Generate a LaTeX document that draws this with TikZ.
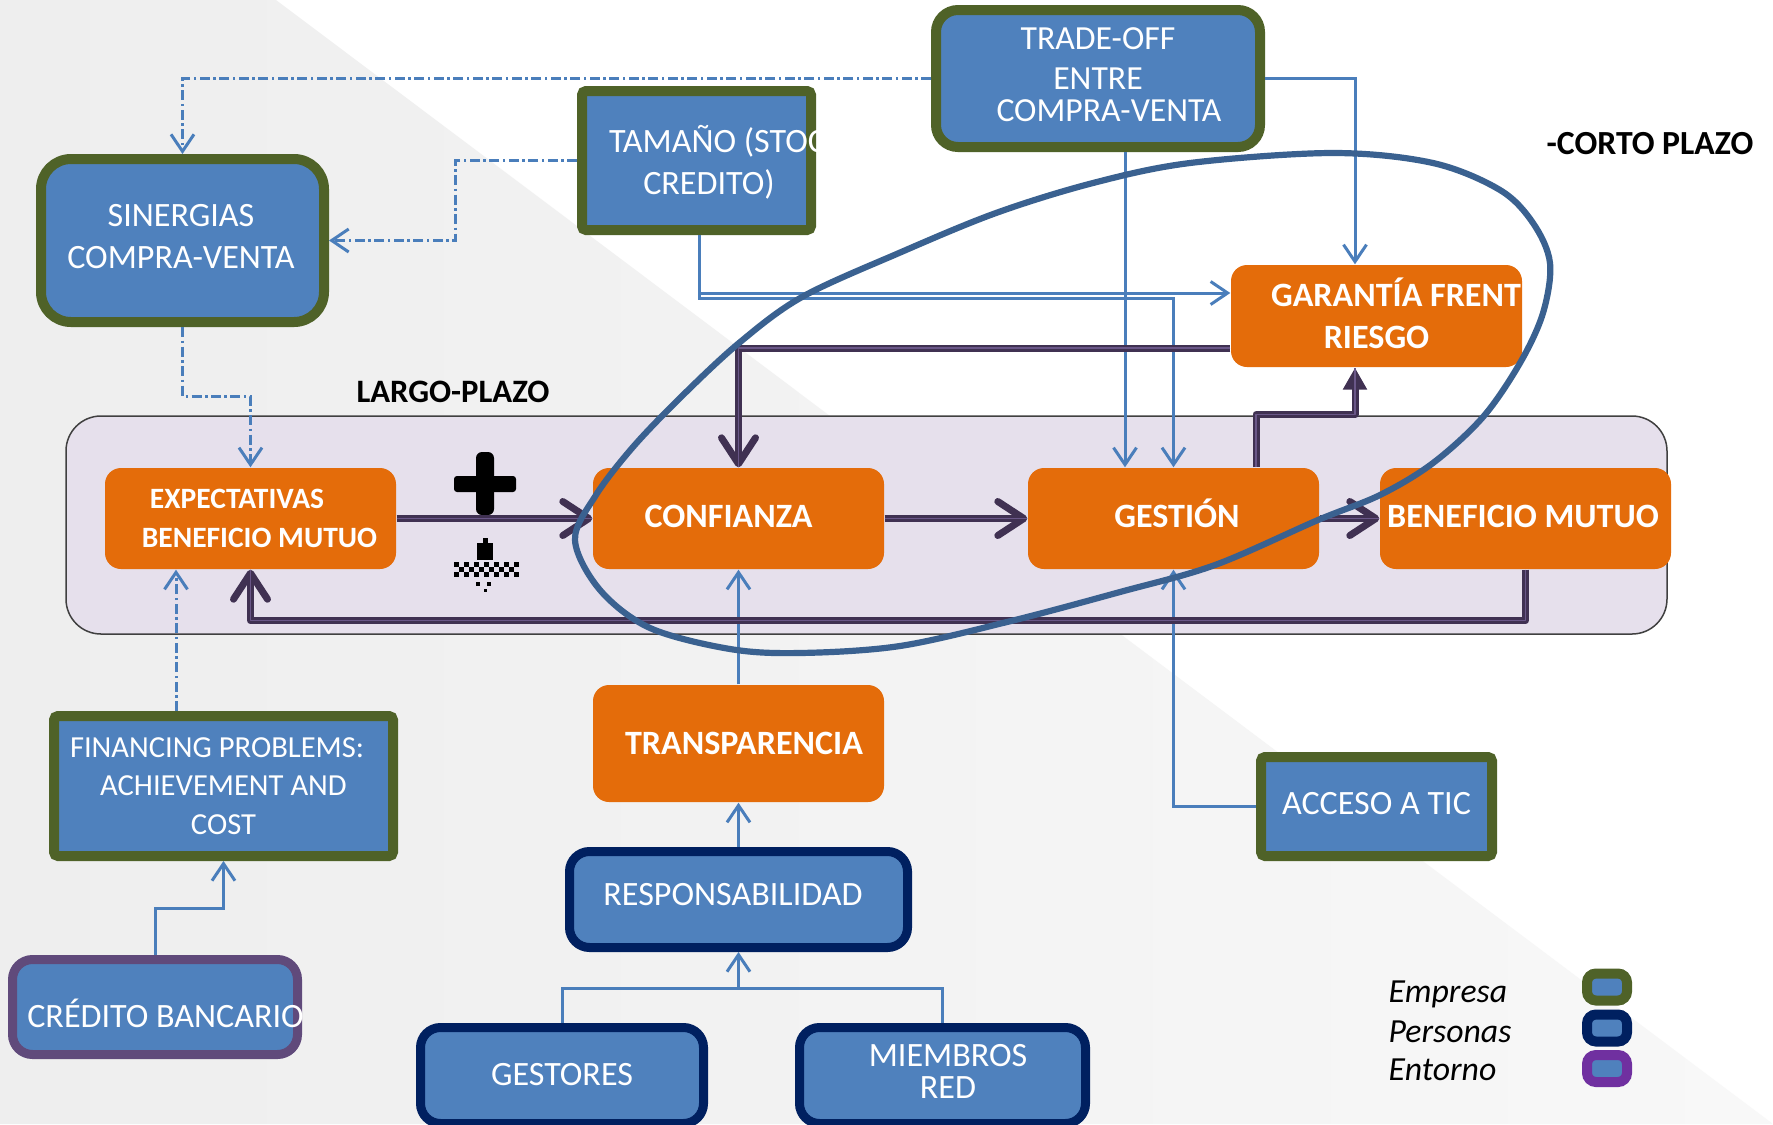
\documentclass[tikz,border=0pt]{standalone}
\usepackage{fontspec}
\setmainfont{Carlito}
\usetikzlibrary{arrows.meta}
\definecolor{bgray}{HTML}{F5F5F5}
\definecolor{bgrayl}{HTML}{EEEEEE}
\definecolor{bgrayr}{HTML}{F8F8F8}
\definecolor{boxblue}{HTML}{4F81BD}
\definecolor{empcol}{HTML}{4F6228}
\definecolor{percol}{HTML}{002060}
\definecolor{entcol}{HTML}{604A7B}
\definecolor{legpur}{HTML}{7030A0}
\definecolor{orng}{HTML}{E46C0A}
\definecolor{lav}{HTML}{E6E0EC}
\definecolor{conblue}{HTML}{4A7EBB}
\definecolor{pudark}{HTML}{403152}
\definecolor{pumid}{HTML}{6A5788}
\definecolor{ellblue}{HTML}{3A6190}
\tikzset{
  bluebox/.style={draw, fill=boxblue, line width=1mm, text=white, inner sep=0pt, align=center, font=\fontsize{9.7}{11.7}\selectfont},
  empbox/.style={bluebox, draw=empcol},
  perbox/.style={bluebox, draw=percol, line width=0.9mm, rounded corners=2mm},
  entbox/.style={bluebox, draw=entcol, line width=0.9mm, rounded corners=2mm},
  orbox/.style={fill=orng, rounded corners=1.6mm, text=white, inner sep=0pt, align=center, minimum width=29.1mm, minimum height=10.1mm, font=\bfseries\fontsize{9.7}{11.7}\selectfont},
  txt/.style={text=white, inner sep=0pt, align=center, font=\fontsize{9.7}{12}\selectfont},
  legbox/.style={fill=boxblue, line width=1mm, rounded corners=0.9mm, minimum width=4mm, minimum height=2.7mm, inner sep=0pt},
  plainconn/.style={draw=conblue, line width=0.3mm},
  conn/.style={plainconn, -{Straight Barb[length=1.7mm,width=2.3mm]}},
  ddconn/.style={conn, dash pattern=on 1mm off 0.35mm on 0.25mm off 0.35mm},
  puconn/.style={draw=pudark, line width=0.7mm, line join=round, -{Straight Barb[length=2.6mm,width=3.4mm,round]}, postaction={draw=pumid, line width=0.15mm, -}},
}
\begin{document}
\begin{tikzpicture}[x=0.1mm,y=-0.1mm]
\path[use as bounding box] (0,0) rectangle (1773,1124);
\clip (0,0) rectangle (1773,1124);
% background
\fill[white] (0,0) rectangle (1773,1124);
\shade[left color=bgrayl, right color=bgrayr] (0,0) -- (276,0) -- (1773,1124) -- (0,1124) -- cycle;
% long-term band
\draw[fill=lav, draw=black!75, line width=0.15mm, rounded corners=3.5mm] (66,416) rectangle (1667,634);

% boxes
\node[empbox, rounded corners=2.2mm, minimum width=32.4mm, minimum height=13.7mm] (trade) at (1098,78.5) {};
\node[txt, font=\fontsize{9.6}{9.1}\selectfont] (tradetxt) at (1098,75) {TRADE-OFF\\[2.3pt]ENTRE\hspace*{4.2mm}\\\hspace*{2.2mm}COMPRA-VENTA};
\node[empbox, rounded corners=0.4mm, minimum width=22.9mm, minimum height=13.9mm] (tam) at (696.5,160.5) {};
\begin{scope}
  \clip (577,86) rectangle (816,235);
  \node[txt] (tamtxt) at (709,162) {\hspace*{1.7mm}TAMAÑO (STOC\\CREDITO)};
\end{scope}
\node[empbox, rounded corners=3mm, minimum width=28.3mm, minimum height=16.3mm] (sin) at (182.5,240.5) {};
\node[txt] (sintxt) at (181,236.5) {SINERGIAS\\COMPRA-VENTA};
\node[empbox, rounded corners=0.4mm, minimum width=33.9mm, minimum height=14mm, font=\fontsize{8.7}{11}\selectfont] (fin) at (223.5,786) {FINANCING PROBLEMS:\hspace*{1.3mm}\\ACHIEVEMENT AND\hspace*{1.3mm}\\COST};
\node[entbox, minimum width=28.5mm, minimum height=9.5mm] (cred) at (155,1007) {};
\node[txt, anchor=base] (credtxt) at (165.5,1027) {CRÉDITO BANCARIO};

\node[orbox, font=\bfseries\fontsize{8.4}{11.1}\selectfont] (expe) at (250.5,518.5) {EXPECTATIVAS\hspace*{2.7mm}\\\hspace*{1.8mm}BENEFICIO MUTUO};
\node[orbox, text height=2.1mm, text depth=0.4mm] (conf) at (738.5,518.5) {CONFIANZA\hspace*{2mm}};
\node[orbox, text height=2.1mm, text depth=0.4mm] (gest) at (1173.5,518.5) {\hspace*{0.7mm}GESTIÓN};
\node[orbox, text height=2.1mm, text depth=0.4mm] (bene) at (1525.5,518.5) {BENEFICIO MUTUO\hspace*{0.5mm}};
\node[orbox, minimum height=10.2mm] (gar) at (1376.5,316) {};
\node[txt, font=\bfseries\fontsize{9.7}{12}\selectfont] (gartxt) at (1376.5,313) {\hspace*{3.9mm}GARANTÍA FRENT\\RIESGO};
\node[orbox, minimum height=11.7mm, text height=2.1mm, text depth=0mm] (trans) at (738.5,743.5) {\hspace*{1.1mm}TRANSPARENCIA};

\node[perbox, minimum width=33.8mm, minimum height=9.6mm, text height=2.2mm, text depth=1.1mm] (resp) at (738.5,899.5) {RESPONSABILIDAD\hspace*{1.1mm}};
\node[perbox, minimum width=28.3mm, minimum height=9.6mm, text height=2.2mm, text depth=0.3mm] (gesto) at (562,1075.5) {GESTORES};
\node[perbox, minimum width=28.6mm, minimum height=9.6mm] (miem) at (942.5,1075.5) {};
\node[txt, font=\fontsize{9.7}{9.1}\selectfont] (miemtxt) at (948,1071) {MIEMBROS\\RED};
\node[empbox, rounded corners=0.4mm, minimum width=23.1mm, minimum height=9.9mm, text height=2.2mm, text depth=0.7mm] (acc) at (1376.5,806.5) {ACCESO A TIC};

% labels
\node[inner sep=0pt, font=\bfseries\fontsize{9.3}{11}\selectfont] (lplazo) at (453,392) {LARGO-PLAZO};
\node[inner sep=0pt, font=\bfseries\fontsize{9.6}{11}\selectfont] (cplazo) at (1650,144) {-CORTO PLAZO};

% legend
\node[font=\itshape\fontsize{9.6}{11}\selectfont, anchor=base west, inner sep=0pt] (lg1) at (1388,1002) {Empresa};
\node[font=\itshape\fontsize{9.6}{11}\selectfont, anchor=base west, inner sep=0pt] (lg2) at (1388,1042) {Personas};
\node[font=\itshape\fontsize{9.6}{11}\selectfont, anchor=base west, inner sep=0pt] (lg3) at (1388,1080) {Entorno};
\node[legbox, draw=empcol] (lb1) at (1607,987) {};
\node[legbox, draw=percol] (lb2) at (1607,1028) {};
\node[legbox, draw=legpur] (lb3) at (1607,1068.5) {};

% plus / minus signs
\fill[black, rounded corners=0.6mm] (476,452) rectangle (494,515);
\fill[black, rounded corners=0.3mm] (454,476) rectangle (516,492);
\fill[black] (483,538) rectangle (488,543);
\fill[black] (477,543) rectangle (493,560);
\foreach \i in {0,...,6} {
  \fill[black] (454+10*\i,562) rectangle ++(5,5);
  \fill[black] (454+10*\i,572) rectangle ++(5,5);
}
\foreach \i in {0,...,5} {\fill[black] (459+10*\i,567) rectangle ++(5,5);}
\fill[black] (476,582) rectangle ++(4,4);
\fill[black] (487,582) rectangle ++(4,4);
\fill[black] (484,589) rectangle ++(3,3);

% blue connectors
\draw[ddconn] (trade.west) -| (sin.north);
\draw[ddconn] (tam.west) -- ++(-122,0) |- (sin.east);
\draw[ddconn] (sin.south) -- ++(0,69) -| (expe.north);
\draw[ddconn] (fin.north) ++(-47.5,0) coordinate (f1) -- (f1 |- expe.south);
\draw[conn] (cred.north) -- ++(0,-47) -| (fin.south);
\draw[conn] (trade.east) -- ++(90,0) coordinate (t2) -- (t2 |- gar.north);
\draw[conn] (trade.south) ++(27,0) coordinate (t3) -- (t3 |- gest.north);
\draw[conn] (tam.south) ++(2.5,0) coordinate (t4) |- ([yshift=2.3mm]gar.west);
\draw[conn] (t4) -- ++(0,63) -| (gest.north);
\draw[conn] (acc.west) -| (gest.south);
\draw[conn] (trans.north) -- (conf.south);
\draw[conn] (resp.north) -- (trans.south);
\coordinate (jn) at (738.5,988);
\draw[plainconn] (gesto.north) |- (jn) -| (miem.north);
\draw[conn] (jn) -- (resp.south);

% purple connectors
\draw[puconn] (expe.east) -- (conf.west);
\draw[puconn] (conf.east) -- (gest.west);
\draw[puconn] (gest.east) -- (bene.west);
\draw[puconn] (bene.south) -- ++(0,51) -| (expe.south);
\draw[puconn] ([yshift=-3.2mm]gar.west) -| (conf.north);
\draw[puconn, -{Triangle[length=2.2mm,width=2.3mm]}] (gest.north) ++(82.5,0) coordinate (g1) -- ++(0,-53) -| ([xshift=-2.15mm]gar.south);

% short-term loop
\draw[ellblue, line width=0.62mm] plot[smooth cycle, tension=0.55] coordinates {
 (575,540) (600,590) (650,628) (730,649) (800,653) (900,646) (1011,621) (1120,592)
 (1215,565) (1318,520) (1380,495) (1433,463) (1483,417) (1520,363) (1543,313)
 (1550,263) (1533,223) (1500,190) (1433,163) (1333,153) (1190,163) (1093,183)
 (996,213) (899,253) (802,297) (739,343) (681,397) (633,447) (596,495)};
\end{tikzpicture}
\end{document}
